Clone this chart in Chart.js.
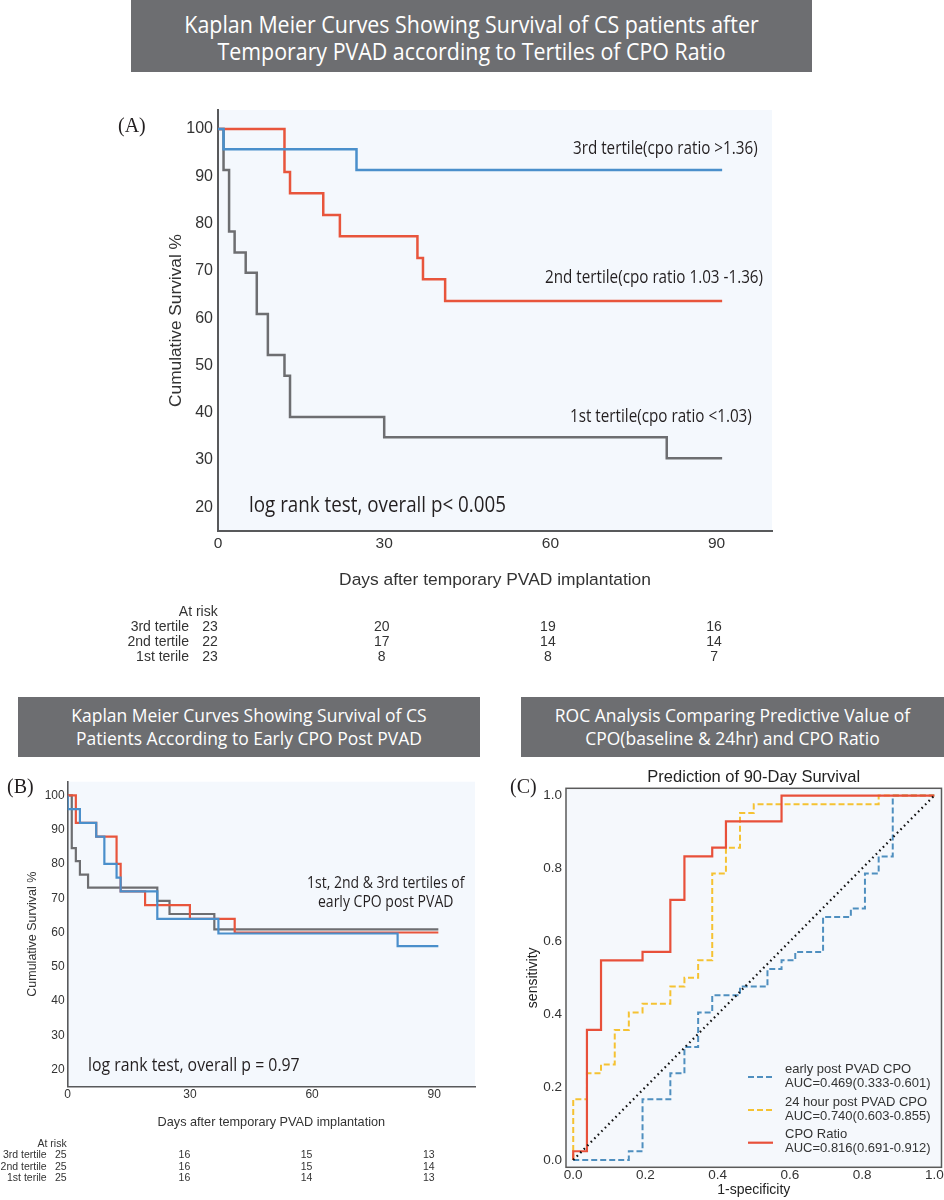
<!DOCTYPE html>
<html>
<head>
<meta charset="utf-8">
<script src="https://cdn.jsdelivr.net/npm/chart.js@4.4.1/dist/chart.umd.min.js"></script>
<style>
  html, body { margin: 0; padding: 0; background: #fff; width: 944px; height: 1200px; overflow: hidden; }
  .box { position: absolute; background: #6d6e71; color: #fff; font-family: "Open Sans", sans-serif;
         text-align: center; display: flex; flex-direction: column; justify-content: center; box-sizing: border-box; }
  .box div { white-space: nowrap; }
  .wrap { position: absolute; }
</style>
</head>
<body>
<div class="box" style="left:131px;top:0;width:681px;height:72px;font-size:23px;line-height:27px;padding-top:3px;">
  <div style="transform:scaleX(0.93)">Kaplan Meier Curves Showing Survival of CS patients after</div>
  <div style="transform:scaleX(0.93)">Temporary PVAD according to Tertiles of CPO Ratio</div>
</div>
<div class="box" style="left:18px;top:697px;width:462px;height:60px;font-size:19px;line-height:23.3px;">
  <div style="transform:scaleX(0.92)">Kaplan Meier Curves Showing Survival of CS</div>
  <div style="transform:scaleX(0.92)">Patients According to Early CPO Post PVAD</div>
</div>
<div class="box" style="left:521px;top:697px;width:423px;height:60px;font-size:19px;line-height:23.3px;">
  <div style="transform:scaleX(0.92)">ROC Analysis Comparing Predictive Value of</div>
  <div style="transform:scaleX(0.92)">CPO(baseline &amp; 24hr) and CPO Ratio</div>
</div>

<div class="wrap" style="left:100px;top:95px;"><canvas id="chartA" width="700" height="575"></canvas></div>
<div class="wrap" style="left:0px;top:770px;"><canvas id="chartB" width="480" height="430"></canvas></div>
<div class="wrap" style="left:500px;top:760px;"><canvas id="chartC" width="444" height="440"></canvas></div>

<script>
// --- panel A: KM by tertile of CPO ratio ---
const daysA3 = [0, 1, 25, 91];
const survA3 = [100, 95.7, 91.3, 91.3];
const daysA2 = [0, 12, 13, 19, 22, 36, 37, 41, 91];
const survA2 = [100, 90.9, 86.4, 81.8, 77.3, 72.7, 68.2, 63.6, 63.6];
const daysA1 = [0, 1, 2, 3, 5, 7, 9, 12, 13, 30, 81, 91];
const survA1 = [100, 91.3, 78.3, 73.9, 69.6, 60.9, 52.2, 47.8, 39.1, 34.8, 30.4, 30.4];

// --- panel B: KM by tertile of early CPO ---
const daysB3 = [0, 0, 3, 7, 9, 12, 13, 22, 37, 81, 91];
const survB3 = [100, 96, 92, 88, 80, 76, 72, 64, 59.7, 56, 56];
const daysB2 = [0, 2, 7, 12, 13, 19, 30, 41, 91];
const survB2 = [100, 92, 88, 80, 72, 68, 64, 60, 60];
const daysB1 = [0, 1, 2, 3, 5, 22, 25, 36, 91];
const survB1 = [100, 84.6, 80.8, 76.9, 73.1, 69.2, 65.4, 60.9, 60.9];

const dayTicks = [0, 30, 60, 90];
const survTicks = [20, 30, 40, 50, 60, 70, 80, 90, 100];

// at-risk tables
const riskDays = [0, 30, 60, 90];
const riskLabels = ['3rd tertile', '2nd tertile', '1st terile'];
const riskA = [[23, 20, 19, 16], [22, 17, 14, 14], [23, 8, 8, 7]];
const riskB = [[25, 16, 15, 13], [25, 16, 15, 14], [25, 16, 14, 13]];

// --- panel C: ROC curves ---
const fprEarly = [0, 0.154, 0.192, 0.269, 0.308, 0.346, 0.385, 0.462, 0.538, 0.577, 0.615, 0.692, 0.769, 0.808, 0.846, 0.885, 1.0];
const tprEarly = [0, 0.024, 0.167, 0.238, 0.310, 0.405, 0.452, 0.476, 0.524, 0.548, 0.571, 0.667, 0.690, 0.786, 0.833, 1.0, 1.0];
const fpr24 = [0, 0, 0.038, 0.077, 0.115, 0.154, 0.192, 0.269, 0.308, 0.346, 0.385, 0.423, 0.462, 0.5, 0.846, 1.0];
const tpr24 = [0, 0.167, 0.238, 0.262, 0.357, 0.405, 0.429, 0.476, 0.5, 0.548, 0.786, 0.857, 0.952, 0.976, 1.0, 1.0];
const fprRatio = [0, 0, 0.038, 0.077, 0.192, 0.269, 0.308, 0.385, 0.423, 0.577, 1.0];
const tprRatio = [0, 0.024, 0.357, 0.548, 0.571, 0.714, 0.833, 0.857, 0.929, 1.0, 1.0];
const diagX = [0, 1];
const diagY = [0, 1];
const rocTicks = [0, 0.2, 0.4, 0.6, 0.8, 1.0];
const legendNames = ['early post PVAD CPO', '24 hour post PVAD CPO', 'CPO Ratio'];
const legendAuc = ['AUC=0.469(0.333-0.601)', 'AUC=0.740(0.603-0.855)', 'AUC=0.816(0.691-0.912)'];

Chart.defaults.font.family = "'Liberation Sans', Arial, sans-serif";
Chart.defaults.color = '#333';

const BLUE = '#4a8fcb', RED = '#e8553c', GRAY = '#6d6e71';
const ROC_BLUE = '#4f8fbf', ROC_YELLOW = '#f5c232', ROC_RED = '#e8503a';
const PLOT_BG = '#f4f8fd';
const SANS = "'Liberation Sans', Arial, sans-serif";
const MYRIAD = "'Open Sans', sans-serif";
const SERIF = "'Liberation Serif', 'Times New Roman', serif";

const pts = (xs, ys) => xs.map((x, i) => ({ x, y: ys[i] }));

const stepLine = (label, xs, ys, color, width, dash) => ({
  label, data: pts(xs, ys), borderColor: color, borderWidth: width,
  borderDash: dash || [], stepped: true, pointRadius: 0, fill: false, tension: 0
});

// sx < 1 squeezes the text sideways (condensed look of the original face)
const drawText = (ctx, text, x, y, font, color, align, sx) => {
  ctx.save();
  ctx.translate(x, y);
  ctx.scale(sx || 1, 1);
  ctx.font = font;
  ctx.fillStyle = color;
  ctx.textAlign = align || 'left';
  ctx.textBaseline = 'middle';
  ctx.fillText(text, 0, 0);
  ctx.restore();
};

const fillPlot = (chart, color) => {
  const { ctx, chartArea: a } = chart;
  ctx.save();
  ctx.fillStyle = color;
  ctx.fillRect(a.left, a.top, a.right - a.left, a.bottom - a.top);
  ctx.restore();
};

const drawRisk = (chart, rows, cfg) => {
  const { ctx } = chart;
  const x = chart.scales.x;
  const font = `${cfg.size}px ${SANS}`;
  drawText(ctx, 'At risk', cfg.right, cfg.top, font, '#333', 'right');
  rows.forEach((row, i) => {
    const y = cfg.top + cfg.gap * (i + 1);
    drawText(ctx, riskLabels[i], cfg.labelRight, y, font, '#333', 'right');
    row.forEach((n, j) => {
      if (j === 0) drawText(ctx, String(n), cfg.right, y, font, '#333', 'right');
      else drawText(ctx, String(n), x.getPixelForValue(riskDays[j]) + cfg.shift, y, font, '#333', 'center');
    });
  });
};

// shared KM axes
const kmScales = (o) => ({
  x: {
    type: 'linear', min: 0, max: 100,
    afterBuildTicks: s => { s.ticks = dayTicks.map(v => ({ value: v })); },
    afterFit: s => { s.height = o.xHeight; },
    grid: { display: false, drawTicks: false },
    border: { display: true, color: '#58595b', width: o.axisWidth },
    ticks: { padding: o.xPad, color: '#333', font: { size: o.xTick }, callback: v => String(v) },
    title: { display: true, text: 'Days after temporary PVAD implantation', color: '#333',
             font: { size: o.xTitle }, padding: { top: 0, bottom: 0 } }
  },
  y: {
    type: 'linear', min: 15, max: 104,
    afterBuildTicks: s => { s.ticks = survTicks.map(v => ({ value: v })); },
    afterFit: s => { s.width = o.yWidth; },
    grid: { display: false, drawTicks: false },
    border: { display: true, color: '#58595b', width: o.axisWidth },
    ticks: { padding: o.yPad, color: '#333', font: { size: o.yTick }, callback: v => String(v) },
    title: { display: true, text: 'Cumulative Survival %', color: '#333',
             font: { size: o.yTitle }, padding: { top: o.yTitlePad, bottom: 0 } }
  }
});

const baseOptions = {
  responsive: false,
  animation: false,
  events: [],
  plugins: { legend: { display: false }, tooltip: { enabled: false } }
};

// ---------- A ----------
new Chart(document.getElementById('chartA'), {
  type: 'line',
  data: {
    datasets: [
      stepLine('3rd tertile', daysA3, survA3, BLUE, 2.5),
      stepLine('2nd tertile', daysA2, survA2, RED, 2.5),
      stepLine('1st tertile', daysA1, survA1, GRAY, 2.5)
    ]
  },
  options: {
    ...baseOptions,
    layout: { padding: { left: 56, top: 15, right: 28, bottom: 79 } },
    scales: kmScales({ xHeight: 60, yWidth: 62, axisWidth: 2, xPad: 3, yPad: 5,
                       xTick: 15.5, yTick: 16, xTitle: 17.4, yTitle: 17.3, yTitlePad: 10 })
  },
  plugins: [{
    id: 'panelA',
    beforeDraw: chart => fillPlot(chart, PLOT_BG),
    afterDraw: chart => {
      const ctx = chart.ctx;
      const lab = `17.5px ${MYRIAD}`;
      drawText(ctx, '(A)', 18, 32, `20px ${SERIF}`, '#231f20');
      drawText(ctx, '3rd tertile(cpo ratio >1.36)', 473, 54, lab, '#231f20', 'left', 0.87);
      drawText(ctx, '2nd tertile(cpo ratio 1.03 -1.36)', 445, 183, lab, '#231f20', 'left', 0.87);
      drawText(ctx, '1st tertile(cpo ratio <1.03)', 470, 322, lab, '#231f20', 'left', 0.87);
      drawText(ctx, 'log rank test, overall p< 0.005', 149, 411, `21px ${MYRIAD}`, '#231f20', 'left', 0.895);
      drawRisk(chart, riskA, { size: 14, top: 516.7, gap: 15, labelRight: 89, right: 117.7, shift: -2.5 });
    }
  }]
});

// ---------- B ----------
new Chart(document.getElementById('chartB'), {
  type: 'line',
  data: {
    datasets: [
      stepLine('3rd tertile', daysB3, survB3, BLUE, 2.2),
      stepLine('2nd tertile', daysB2, survB2, RED, 2.2),
      stepLine('1st terile', daysB1, survB1, GRAY, 2.2)
    ]
  },
  options: {
    ...baseOptions,
    layout: { padding: { left: 0, top: 11.7, right: 5, bottom: 70 } },
    scales: kmScales({ xHeight: 43.3, yWidth: 67.7, axisWidth: 1.6, xPad: 1, yPad: 3,
                       xTick: 12, yTick: 12, xTitle: 12.7, yTitle: 12.5, yTitlePad: 25.5 })
  },
  plugins: [{
    id: 'panelB',
    beforeDraw: chart => fillPlot(chart, PLOT_BG),
    afterDraw: chart => {
      const ctx = chart.ctx;
      drawText(ctx, '(B)', 7, 18, `20px ${SERIF}`, '#231f20');
      drawText(ctx, '1st, 2nd & 3rd tertiles of', 385.7, 113, `16px ${MYRIAD}`, '#231f20', 'center', 0.875);
      drawText(ctx, 'early CPO post PVAD', 385.7, 132, `16px ${MYRIAD}`, '#231f20', 'center', 0.875);
      drawText(ctx, 'log rank test, overall p = 0.97', 88, 295.7, `18px ${MYRIAD}`, '#231f20', 'left', 0.88);
      drawRisk(chart, riskB, { size: 10.5, top: 374.3, gap: 11.3, labelRight: 46.7, right: 66.7, shift: -5.5 });
    }
  }]
});

// ---------- C ----------
const rocDatasets = [
  { label: 'chance', data: pts(diagX, diagY), borderColor: '#111', borderWidth: 2.2,
    borderDash: [1.6, 3.4], borderCapStyle: 'butt', pointRadius: 0, fill: false },
  stepLine('CPO Ratio', fprRatio, tprRatio, ROC_RED, 2.2),
  stepLine('24 hour post PVAD CPO', fpr24, tpr24, ROC_YELLOW, 2, [6, 3]),
  stepLine('early post PVAD CPO', fprEarly, tprEarly, ROC_BLUE, 2, [6, 3])
];

new Chart(document.getElementById('chartC'), {
  type: 'line',
  data: { datasets: rocDatasets },
  options: {
    ...baseOptions,
    layout: { padding: { left: 0, top: 0, right: 2.3, bottom: 0 } },
    plugins: {
      legend: { display: false },
      tooltip: { enabled: false },
      title: { display: true, text: 'Prediction of 90-Day Survival', fullSize: false, color: '#222',
               font: { size: 16.5, weight: 'normal' }, padding: { top: 8, bottom: 0.5 } }
    },
    scales: {
      x: {
        type: 'linear', min: -0.02, max: 1.02,
        afterBuildTicks: s => { s.ticks = rocTicks.map(v => ({ value: v })); },
        afterFit: s => { s.height = 32.7; },
        grid: { display: false, drawTicks: false },
        border: { display: false },
        ticks: { padding: 0.3, color: '#333', font: { size: 13.5 }, callback: v => v.toFixed(1) },
        title: { display: true, text: '1-specificity', color: '#222', font: { size: 14 },
                 padding: { top: 0, bottom: 1.6 } }
      },
      y: {
        type: 'linear', min: -0.02, max: 1.02,
        afterBuildTicks: s => { s.ticks = rocTicks.map(v => ({ value: v })); },
        afterFit: s => { s.width = 66; },
        grid: { display: false, drawTicks: false },
        border: { display: false },
        ticks: { padding: 4, color: '#333', font: { size: 13.5 }, callback: v => v.toFixed(1) },
        title: { display: true, text: 'sensitivity', color: '#222', font: { size: 14 },
                 padding: { top: 24.6, bottom: 0 } }
      }
    }
  },
  plugins: [{
    id: 'panelC',
    beforeDraw: chart => fillPlot(chart, '#f5f8fc'),
    afterDraw: chart => {
      const { ctx, chartArea: a } = chart;
      ctx.save();
      ctx.strokeStyle = '#5a5a5a';
      ctx.lineWidth = 1.5;
      ctx.strokeRect(a.left, a.top, a.right - a.left, a.bottom - a.top);
      ctx.restore();
      drawText(ctx, '(C)', 10, 28, `20px ${SERIF}`, '#231f20');
      // legend, lower right
      const styles = [[ROC_BLUE, [6, 3]], [ROC_YELLOW, [6, 3]], [ROC_RED, []]];
      const rowsY = [317, 350, 382.7];
      styles.forEach(([color, dash], i) => {
        ctx.save();
        ctx.strokeStyle = color;
        ctx.lineWidth = 2.2;
        ctx.setLineDash(dash);
        ctx.beginPath();
        ctx.moveTo(248, rowsY[i]);
        ctx.lineTo(273, rowsY[i]);
        ctx.stroke();
        ctx.restore();
        drawText(ctx, legendNames[i], 285, rowsY[i] - 8, `13px ${SANS}`, '#333');
        drawText(ctx, legendAuc[i], 285, rowsY[i] + 6, `13px ${SANS}`, '#333');
      });
    }
  }]
});
</script>
</body>
</html>
